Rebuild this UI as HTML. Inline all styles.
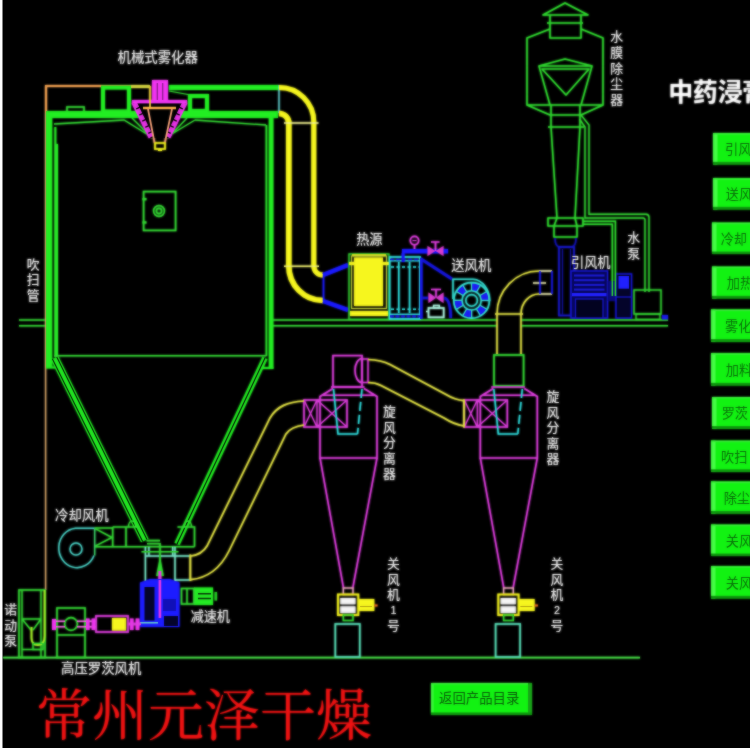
<!DOCTYPE html>
<html lang="zh"><head><meta charset="utf-8"><title>喷雾干燥机组流程图</title>
<style>
html,body{margin:0;padding:0;background:#000;width:750px;height:750px;overflow:hidden;font-family:"Liberation Sans",sans-serif;}
svg{display:block;position:absolute;left:0;top:0;}
svg text{font-family:"Liberation Sans","Noto Sans CJK SC",sans-serif;stroke:none;}
</style></head><body>
<svg width="750" height="750" viewBox="0 0 750 750" fill="none" stroke-linecap="butt">
<rect width="750" height="750" fill="#000"/>
<defs><filter id="soft" filterUnits="userSpaceOnUse" x="-10" y="-10" width="770" height="770" color-interpolation-filters="sRGB"><feGaussianBlur stdDeviation="0.9"/></filter><g id="all">
<line x1="3" y1="657.6" x2="640" y2="657.6" stroke="#46e046" stroke-width="1.68"/>
<line x1="19" y1="320" x2="46" y2="320" stroke="#34dc34" stroke-width="1.47"/>
<line x1="273" y1="320" x2="497" y2="320" stroke="#34dc34" stroke-width="1.58"/>
<line x1="521" y1="320" x2="668" y2="320" stroke="#34dc34" stroke-width="1.58"/>
<line x1="19" y1="325.8" x2="46" y2="325.8" stroke="#34dc34" stroke-width="1.47"/>
<line x1="273" y1="325.8" x2="497" y2="325.8" stroke="#34dc34" stroke-width="1.58"/>
<line x1="521" y1="325.8" x2="668" y2="325.8" stroke="#34dc34" stroke-width="1.58"/>
<g id="tower">
<line x1="45.6" y1="113" x2="45.6" y2="590" stroke="#d2a266" stroke-width="1.37"/>
<path d="M46 113V86H150" stroke="#f0a050" stroke-width="2.1" fill="none"/>
<rect x="169" y="85" width="110" height="5" fill="#22ee22"/>
<rect x="131" y="85" width="19" height="3" fill="#d4d440"/>
<rect x="103" y="87.5" width="26" height="24" fill="none" stroke="#22ee22" stroke-width="4"/>
<rect x="67" y="107" width="17" height="5" fill="none" stroke="#34dc34" stroke-width="1.58"/>
<rect x="46" y="111" width="232" height="7" fill="#22ee22"/>
<rect x="190" y="96" width="17" height="15" fill="none" stroke="#22ee22" stroke-width="4"/>
<rect x="46" y="111" width="6.2" height="257" fill="#22ee22"/>
<rect x="54.3" y="127" width="2.0" height="230" fill="#28ea28"/>
<rect x="56" y="144" width="2" height="212.5" fill="#28ea28"/>
<rect x="268.8" y="111" width="4.6" height="257.5" fill="#22ee22"/>
<line x1="266.4" y1="125" x2="266.4" y2="356" stroke="#2cea2c" stroke-width="1.68"/>
<rect x="260" y="367" width="13.4" height="2" fill="#22ee22"/>
<rect x="46" y="366.5" width="10" height="2.0" fill="#22ee22"/>
<path d="M54 124L124 120L150 136M195 120L170 135M195 120L266 125M132 118L152 138M187 118L168 138" stroke="#34dc34" stroke-width="1.26" fill="none"/>
<line x1="54" y1="355.8" x2="266.5" y2="355.8" stroke="#34dc34" stroke-width="1.58"/>
<path d="M54.6 358L144.8 540.5" stroke="#22ee22" stroke-width="8.4" fill="none"/>
<path d="M56.75 356.94L146.95 539.44M52.45 359.06L142.65 541.56" stroke="#000" stroke-width="1.05" fill="none"/>
<path d="M265 358L177 544" stroke="#22ee22" stroke-width="5.5" fill="none"/>
<path d="M265 358L177 544" stroke="#000" stroke-width="1.16" fill="none"/>
<rect x="143.6" y="191.6" width="32.0" height="38.8" fill="none" stroke="#34dc34" stroke-width="1.68"/>
<rect x="142.5" y="198" width="4.0" height="2.3" fill="#34dc34"/>
<rect x="142.5" y="221.3" width="4.0" height="2.3" fill="#34dc34"/>
<circle cx="159" cy="211" r="5.4" stroke="#34dc34" stroke-width="1.58" fill="none"/>
<circle cx="159" cy="211" r="2.6" stroke="#34dc34" stroke-width="1.58" fill="none"/>
</g>
<g id="atomizer">
<polygon points="133,103 186,103 168.5,138 150.5,138" fill="#000"/>
<path d="M134.5 103L151 137M184.5 103L168 137" stroke="#e232e2" stroke-width="5" fill="none" stroke-dasharray="5.5 1.3"/>
<path d="M132.3 103L149.6 138M186.7 103L169.4 138" stroke="#f034f0" stroke-width="1.68" fill="none"/>
<rect x="132" y="100" width="55" height="3.4" fill="#f034f0"/>
<rect x="152" y="80" width="16" height="22" fill="#f034f0"/>
<path d="M157.3 83V100M162.7 83V100" stroke="#8a1c8a" stroke-width="1.26" fill="none"/>
<line x1="143" y1="108" x2="176" y2="108" stroke="#ffb24a" stroke-width="2.31"/>
<line x1="150" y1="86" x2="150" y2="108" stroke="#f4d03a" stroke-width="1.68"/>
<line x1="169" y1="91" x2="188" y2="94.5" stroke="#34dc34" stroke-width="1.26"/>
<path d="M148 109L154.6 143M172 109L164.8 143" stroke="#f4a078" stroke-width="1.78" fill="none"/>
<rect x="155" y="143" width="10" height="6" fill="none" stroke="#f6f61e" stroke-width="1.68"/>
<rect x="158" y="149" width="4" height="2" fill="#f6f61e"/>
</g>
<g id="hotpipe">
<line x1="279" y1="85" x2="279" y2="113" stroke="#68dede" stroke-width="1.26"/>
<path d="M279 87.5A34.5 34.5 0 0 1 313.8 122V266" stroke="#f6f61e" stroke-width="5" fill="none"/>
<path d="M279 113.5A9.7 9.5 0 0 1 288.8 123V266A34.2 34.5 0 0 0 323 300.5" stroke="#f6f61e" stroke-width="5.5" fill="none"/>
<path d="M313.8 266A9 9 0 0 0 323 275" stroke="#f6f61e" stroke-width="5" fill="none"/>
<line x1="284" y1="123" x2="318.5" y2="123" stroke="#f0f090" stroke-width="1.47"/>
<line x1="284" y1="266.3" x2="319" y2="266.3" stroke="#f0f070" stroke-width="1.47"/>
<path d="M323 275L348 265M323 301L348 310" stroke="#1a1aff" stroke-width="4.2" fill="none"/>
<line x1="323.5" y1="275" x2="323.5" y2="301" stroke="#1a1aff" stroke-width="1.68"/>
</g>
<g id="heat">
<rect x="349" y="254" width="40" height="65.3" fill="none" stroke="#34dc34" stroke-width="1.26"/>
<rect x="354" y="257.5" width="29" height="48.5" fill="#f6f61e"/>
<line x1="352" y1="255.2" x2="386" y2="255.2" stroke="#f6f61e" stroke-width="1.68"/>
<rect x="351.6" y="256" width="34.8" height="52.5" fill="none" stroke="#c8d838" stroke-width="1.05"/>
<rect x="349" y="262" width="5" height="3" fill="#f6f61e"/>
<rect x="383" y="262" width="6.5" height="3" fill="#f6f61e"/>
<rect x="350" y="311" width="38" height="5" fill="#f6f61e"/>
</g>
<g id="exch">
<rect x="389.6" y="257" width="30.4" height="62" fill="none" stroke="#2fe0e0" stroke-width="1.68"/>
<path d="M398.8 262V313M409.6 262V313" stroke="#2fe0e0" stroke-width="1.58" fill="none"/>
<line x1="390" y1="260.8" x2="420" y2="260.8" stroke="#2fe0e0" stroke-width="1.26"/>
<line x1="390" y1="314.3" x2="420" y2="314.3" stroke="#2fe0e0" stroke-width="1.26"/>
<line x1="391" y1="267" x2="419" y2="267" stroke="#2fe0e0" stroke-width="1.47" stroke-dasharray="3 2.5"/>
<line x1="391" y1="309.3" x2="419" y2="309.3" stroke="#2fe0e0" stroke-width="1.47" stroke-dasharray="3 2.5"/>
<rect x="402" y="249" width="46" height="4.4" fill="#1a1aff"/>
<rect x="401.6" y="253" width="3.0" height="9" fill="#1a1aff"/>
<path d="M420.3 258.5L452 279" stroke="#1616dc" stroke-width="2.8" fill="none"/>
<path d="M421.3 258V319" stroke="#1616e6" stroke-width="2.6" fill="none"/>
<path d="M422 298H428M444 298Q450.7 299 450.7 318" stroke="#1616dc" stroke-width="2.6" fill="none"/>
<line x1="390" y1="316.3" x2="420" y2="316.3" stroke="#1818e0" stroke-width="2.31" stroke-dasharray="4 1.5"/>
<line x1="390" y1="259.4" x2="420" y2="259.4" stroke="#1818e0" stroke-width="1.47" stroke-dasharray="4 2"/>
<circle cx="414.5" cy="240.6" r="4.2" stroke="#e23ee2" stroke-width="1.58" fill="none"/>
<line x1="414.5" y1="245" x2="414.5" y2="249" stroke="#e23ee2" stroke-width="1.68"/>
<line x1="412.5" y1="240.6" x2="416.5" y2="240.6" stroke="#e23ee2" stroke-width="1.05"/>
<polygon points="427.5,246 427.5,256 435.5,251" fill="#d83cd0"/>
<polygon points="443.5,246 443.5,256 435.5,251" fill="#d83cd0"/>
<path d="M435.5 251V242M431 242H439.5" stroke="#e23ee2" stroke-width="1.68" fill="none"/>
<polygon points="428.5,292.5 428.5,303 436,297.7" fill="#d83cd0"/>
<polygon points="443.5,292.5 443.5,303 436,297.7" fill="#d83cd0"/>
<path d="M436 297.5V289.5M431 289.5H441" stroke="#e23ee2" stroke-width="1.58" fill="none"/>
<rect x="428.5" y="308" width="15.2" height="9.3" fill="none" stroke="#b0fae6" stroke-width="1.68"/>
<rect x="433.6" y="305.4" width="5.7" height="2.6" fill="none" stroke="#b0fae6" stroke-width="1.37"/>
<line x1="426" y1="311.5" x2="428.5" y2="311.5" stroke="#b0fae6" stroke-width="1.37"/>
</g>
<g id="sfan">
<circle cx="471.6" cy="300.4" r="13.6" stroke="#1c1cf4" stroke-width="7.4" fill="none" stroke-dasharray="7.12 7.12" stroke-dashoffset="-7.12"/>
<path d="M481.2 300.4L489.2 300.4M479.9 305.2L486.8 309.2M476.4 308.7L480.4 315.6M471.6 310.0L471.6 318.0M466.8 308.7L462.8 315.6M463.3 305.2L456.4 309.2M462.0 300.4L454.0 300.4M463.3 295.6L456.4 291.6M466.8 292.1L462.8 285.2M471.6 290.8L471.6 282.8M476.4 292.1L480.4 285.2M479.9 295.6L486.8 291.6" stroke="#38dcd0" stroke-width="1.16" fill="none"/>
<circle cx="471.6" cy="300.4" r="17.8" stroke="#34e0d4" stroke-width="1.68" fill="none"/>
<circle cx="471.6" cy="300.4" r="9.6" stroke="#34e0d4" stroke-width="1.58" fill="none"/>
<circle cx="471.6" cy="300.4" r="5.8" stroke="#34e0d4" stroke-width="1.58" fill="none"/>
<path d="M453 299V279.3H473A17.4 21.6 0 0 1 489.6 301" stroke="#34e0d4" stroke-width="1.58" fill="none"/>
</g>
<g id="duct2">
<path d="M497 354V314A42 43 0 0 1 539 271M521 354V314A18 20 0 0 1 539 294M495 314H523" stroke="#e4e444" stroke-width="1.58" fill="none"/>
<path d="M539 271H552M533 283H546M539 294H552" stroke="#e8e8b0" stroke-width="1.58" fill="none"/>
<path d="M540 271V294M552 271V294" stroke="#1a1aff" stroke-width="1.37" fill="none"/>
<rect x="494" y="355" width="29.6" height="31" fill="none" stroke="#34dc34" stroke-width="1.68"/>
</g>
<g id="ifan">
<path d="M555 238Q555 247 560 247H571Q576 247 576 238" stroke="#1212b0" stroke-width="1.68" fill="none"/>
<rect x="559" y="247" width="15" height="68.5" fill="none" stroke="#1818cc" stroke-width="1.68"/>
<path d="M562.5 249V315M570.5 249V315" stroke="#10109c" stroke-width="1.16" fill="none"/>
<rect x="571" y="271" width="36.5" height="47" fill="#07075a" stroke="#1616d4" stroke-width="1.47"/>
<line x1="574" y1="275.5" x2="604.5" y2="275.5" stroke="#1a1ad2" stroke-width="2.1"/>
<line x1="574" y1="280.2" x2="604.5" y2="280.2" stroke="#1a1ad2" stroke-width="2.1"/>
<line x1="574" y1="284.9" x2="604.5" y2="284.9" stroke="#1a1ad2" stroke-width="2.1"/>
<line x1="574" y1="289.6" x2="604.5" y2="289.6" stroke="#1a1ad2" stroke-width="2.1"/>
<line x1="572" y1="294.7" x2="606.5" y2="294.7" stroke="#2222ff" stroke-width="3.2"/>
<rect x="575.5" y="299" width="27.5" height="19" fill="#020220" stroke="#1414c0" stroke-width="1.37"/>
<rect x="607.5" y="281" width="8.5" height="20" fill="#0a0a7c"/>
<rect x="616" y="274" width="15.5" height="44" fill="#04042a" stroke="#1414cc" stroke-width="1.47"/>
<rect x="618.5" y="276" width="10.5" height="12.7" fill="#2020ff"/>
<line x1="616" y1="297" x2="631.5" y2="297" stroke="#1414cc" stroke-width="1.26"/>
<rect x="662" y="315" width="6" height="4.5" fill="#1a1ae6"/>
</g>
<g id="dust">
<path d="M543 15L565 3L588 15ZM550 15V38H581V15M547 23H583M550 29L527 38V105L550 115M581 29L603 38V105L581 115M527 105H603M550 115H581M548 127H584M551 105V127M580 105V127M539 66L565 59L592 66ZM542 69H589L566 95ZM539 66L550 105M592 66L581 105M551 127L557 218M580 127L575 218M548 218H583V226H548ZM554 226V237H577V226M557 218L554 226M575 218L577 226" stroke="#30e030" stroke-width="1.58" fill="none" stroke-linejoin="round"/>
<path d="M581 115L589 125V214.3H646Q649 214.3 649 217.5V292" stroke="#34dc34" stroke-width="1.37" fill="none"/>
<path d="M579.5 119L585 127V218H643Q645 218 645 220V292" stroke="#34dc34" stroke-width="1.37" fill="none"/>
<path d="M583 221.3H615.4V296M583 224.2H612.3V296" stroke="#30e630" stroke-width="1.47" fill="none"/>
</g>
<rect x="634" y="290" width="27" height="24" fill="none" stroke="#34dc34" stroke-width="1.37"/>
<rect x="636" y="314" width="24" height="5.3" fill="none" stroke="#34dc34" stroke-width="1.16"/>
<g>
<path d="M331 387H364.5M333 388.5L320 396.5V458H377V396.5L364 388.5M323 395.3H375" stroke="#e23ee2" stroke-width="1.58" fill="none"/>
<path d="M320 458L343.5 588M377 458L352.8 588" stroke="#e23ee2" stroke-width="1.58" fill="none"/>
<rect x="304" y="400" width="43" height="27" fill="none" stroke="#e23ee2" stroke-width="1.58"/>
<path d="M317 400V427M304 400L317 427M317 400L304 427M317 400L347 427M347 400L317 427" stroke="#e23ee2" stroke-width="1.26" fill="none"/>
<path d="M333.5 389L338 434H357.5" stroke="#2fe0e0" stroke-width="1.58" fill="none"/>
<path d="M362 389L357.5 434" stroke="#2fe0e0" stroke-width="1.58" fill="none" stroke-dasharray="9 4"/>
<rect x="343.3" y="588" width="9.7" height="6.5" fill="none" stroke="#f0a8c0" stroke-width="1.37"/>
<rect x="338" y="594.5" width="20.3" height="20.5" fill="none" stroke="#f6f61e" stroke-width="1.89"/>
<rect x="340.3" y="598" width="15.2" height="6.3" fill="#f4f4f4"/>
<rect x="340.3" y="606.3" width="15.2" height="6.7" fill="#f4f4f4"/>
<rect x="358.3" y="599" width="16.0" height="12" fill="#f6f61e"/>
<line x1="360" y1="606.5" x2="372" y2="606.5" stroke="#b0a010" stroke-width="1.05"/>
<rect x="374.3" y="604.5" width="3.2" height="2.0" fill="#f07020"/>
<rect x="343.3" y="615" width="9.7" height="5.5" fill="none" stroke="#34dc34" stroke-width="1.47"/>
<rect x="335.3" y="624" width="24.5" height="33" fill="none" stroke="#58e0b8" stroke-width="1.68"/>
</g>
<g>
<path d="M491.3 387H524.8M493.3 388.5L480.3 396.5V458H537.3V396.5L524.3 388.5M483.3 395.3H535.3" stroke="#e23ee2" stroke-width="1.58" fill="none"/>
<path d="M480.3 458L503.8 588M537.3 458L513.1 588" stroke="#e23ee2" stroke-width="1.58" fill="none"/>
<rect x="464.3" y="400" width="43.0" height="27" fill="none" stroke="#e23ee2" stroke-width="1.58"/>
<path d="M477.3 400V427M464.3 400L477.3 427M477.3 400L464.3 427M477.3 400L507.3 427M507.3 400L477.3 427" stroke="#e23ee2" stroke-width="1.26" fill="none"/>
<path d="M493.8 389L498.3 434H517.8" stroke="#2fe0e0" stroke-width="1.58" fill="none"/>
<path d="M522.3 389L517.8 434" stroke="#2fe0e0" stroke-width="1.58" fill="none" stroke-dasharray="9 4"/>
<rect x="503.6" y="588" width="9.7" height="6.5" fill="none" stroke="#f0a8c0" stroke-width="1.37"/>
<rect x="498.3" y="594.5" width="20.3" height="20.5" fill="none" stroke="#f6f61e" stroke-width="1.89"/>
<rect x="500.6" y="598" width="15.2" height="6.3" fill="#f4f4f4"/>
<rect x="500.6" y="606.3" width="15.2" height="6.7" fill="#f4f4f4"/>
<rect x="518.6" y="599" width="16.0" height="12" fill="#f6f61e"/>
<line x1="520.3" y1="606.5" x2="532.3" y2="606.5" stroke="#b0a010" stroke-width="1.05"/>
<rect x="534.6" y="604.5" width="3.2" height="2.0" fill="#f07020"/>
<rect x="503.6" y="615" width="9.7" height="5.5" fill="none" stroke="#34dc34" stroke-width="1.47"/>
<rect x="495.6" y="624" width="24.5" height="33" fill="none" stroke="#58e0b8" stroke-width="1.68"/>
</g>
<g id="c1top">
<rect x="333" y="355.6" width="29" height="31.4" fill="none" stroke="#e23ee2" stroke-width="1.58"/>
<path d="M362 358.5A7 12 0 0 0 362 382.5" stroke="#e23ee2" stroke-width="1.58" fill="none"/>
<rect x="362" y="359" width="6" height="23.5" fill="none" stroke="#e23ee2" stroke-width="1.37"/>
</g>
<path d="M368 359.5C378 360 384 361.5 390 364.5L446 394.5Q455 400 464 400.6" stroke="#e4e444" stroke-width="1.68" fill="none"/>
<path d="M368 382.5C373 382.6 377 383.4 381 385.5L444 418Q454 424.5 464 426" stroke="#e4e444" stroke-width="1.68" fill="none"/>
<line x1="464" y1="399.5" x2="464" y2="427.5" stroke="#e4e444" stroke-width="1.89"/>
<path d="M304 401C288 402 277 406 270 418L207 546Q202 554.5 191 556" stroke="#e4e444" stroke-width="1.68" fill="none"/>
<path d="M304 425C296 426 290 428 286 434L229 551Q216 577 191 579.6" stroke="#e4e444" stroke-width="1.68" fill="none"/>
<g id="bottom">
<path d="M112.7 527H139.5M112.7 527V546.8M126 527V546.8M112.7 546.8H194.5M94.7 528H112.7M94.7 546.8H112.7" stroke="#34dc34" stroke-width="1.58" fill="none"/>
<path d="M95.2 528.6L112 537.5L95.2 546.2" stroke="#34dc34" stroke-width="1.47" fill="none"/>
<path d="M128.5 527A3.5 6 0 0 1 135.5 527" stroke="#34dc34" stroke-width="1.47" fill="none"/>
<path d="M177.5 527H194.5V546.8" stroke="#34dc34" stroke-width="1.58" fill="none"/>
<path d="M184.5 527A3.5 6 0 0 1 191.5 527" stroke="#34dc34" stroke-width="1.47" fill="none"/>
<path d="M94.7 528.3H75.5A18.3 19.7 0 1 0 94 555.5" stroke="#48d0c4" stroke-width="1.47" fill="none"/>
<line x1="94.7" y1="528" x2="94.7" y2="555.5" stroke="#3cd46a" stroke-width="1.37"/>
<circle cx="76" cy="549" r="6" stroke="#48d0c4" stroke-width="1.47" fill="none"/>
<path d="M145.4 546.8V582M148.9 546.8V556M172.7 546.8V556M175 546.8V582M145.4 556H175M175 556H190M175 580H190" stroke="#7aeccc" stroke-width="1.47" fill="none"/>
<path d="M141.5 551.8H178.5" stroke="#34dc34" stroke-width="1.58" fill="none"/>
<polygon points="160,556 156.2,576 163.8,576" fill="#2ee02e"/>
<line x1="190.3" y1="554.5" x2="190.3" y2="581" stroke="#e4e444" stroke-width="1.89"/>
<path d="M146.5 540.6H160M147 543.7H160V572" stroke="#34dc34" stroke-width="1.58" fill="none"/>
<rect x="158.4" y="571" width="3.0" height="48" fill="#e838e8"/>
<polygon points="140,627 140,582.5 150,579 170,579 179.5,582.5 179.5,627" fill="#1c1cff"/>
<rect x="144.5" y="587" width="10.0" height="33.5" fill="#04042a"/>
<rect x="163" y="599" width="13" height="12" fill="#1010b8"/>
<rect x="164" y="616" width="14" height="10" fill="#04042a"/>
<rect x="158.6" y="580" width="2.6" height="38" fill="#e838e8"/>
<line x1="140" y1="622.8" x2="158" y2="622.8" stroke="#70e8c8" stroke-width="1.37"/>
<rect x="194" y="587.5" width="19" height="17.5" fill="#24ea24"/>
<path d="M198 593.8H211M198 598.4H211" stroke="#063006" stroke-width="1.47" fill="none"/>
<rect x="181.5" y="588.5" width="12.5" height="15.5" fill="none" stroke="#34dc34" stroke-width="1.58"/>
<line x1="187" y1="589" x2="187" y2="604" stroke="#34dc34" stroke-width="1.47"/>
<rect x="214.5" y="592" width="2.5" height="8.5" fill="#24d024"/>
</g>
<g id="roots">
<rect x="57" y="608" width="28" height="49.5" fill="none" stroke="#34dc34" stroke-width="1.58"/>
<line x1="57" y1="635" x2="85" y2="635" stroke="#34dc34" stroke-width="1.47"/>
<circle cx="71" cy="624" r="6.4" stroke="#34dc34" stroke-width="1.58" fill="none"/>
<rect x="52" y="619" width="4" height="11" fill="#f034f0"/>
<path d="M56 621.3H65M77 621.3H96M56 626.8H65M77 626.8H96" stroke="#f070e0" stroke-width="1.47" fill="none"/>
<rect x="86" y="618.5" width="3.6" height="11.5" fill="#f034f0"/>
<rect x="91.6" y="618.5" width="3.4" height="11.5" fill="#f034f0"/>
<rect x="96" y="616" width="32" height="16" fill="none" stroke="#e23ee2" stroke-width="1.68"/>
<rect x="112" y="618" width="14" height="12.5" fill="#f6f61e"/>
<rect x="130" y="618.5" width="3.6" height="11.5" fill="#f034f0"/>
<rect x="135.6" y="618.5" width="3.8" height="11.5" fill="#f034f0"/>
<path d="M128 624H141" stroke="#e23ee2" stroke-width="2.52" fill="none"/>
<rect x="19" y="590" width="26" height="67.5" fill="none" stroke="#34dc34" stroke-width="1.58"/>
<path d="M22 590V657M41 590V657M22 619H41M22 619L31 630M41 619L33 630" stroke="#34dc34" stroke-width="1.37" fill="none"/>
<path d="M44.6 590V636Q44.6 645 38 645Q31.5 645 31.5 638V627" stroke="#a8f428" stroke-width="1.89" fill="none"/>
<rect x="33" y="643.5" width="10" height="6.0" fill="none" stroke="#34dc34" stroke-width="1.37"/>
<line x1="22" y1="649.5" x2="41" y2="649.5" stroke="#34dc34" stroke-width="1.37"/>
</g>
<g id="buttons">
<rect x="713" y="133.1" width="39" height="31.2" fill="#12f212"/>
<rect x="713" y="133.1" width="4.5" height="31.2" fill="#44fb44"/>
<rect x="713" y="133.1" width="39" height="1.5" fill="#3cf83c"/>
<rect x="713" y="161.8" width="39" height="2.5" fill="#0f9a0f"/>
<text x="725" y="154" font-size="13.2" fill="#0a6e0a">引风</text>
<rect x="713" y="178.3" width="39" height="31.0" fill="#12f212"/>
<rect x="713" y="178.3" width="4.5" height="31.0" fill="#44fb44"/>
<rect x="713" y="178.3" width="39" height="1.5" fill="#3cf83c"/>
<rect x="713" y="206.8" width="39" height="2.5" fill="#0f9a0f"/>
<text x="725.8" y="199.3" font-size="13.2" fill="#0a6e0a">送风</text>
<rect x="712" y="222.7" width="40" height="31.3" fill="#12f212"/>
<rect x="712" y="222.7" width="4.5" height="31.3" fill="#44fb44"/>
<rect x="712" y="222.7" width="40" height="1.5" fill="#3cf83c"/>
<rect x="712" y="251.5" width="40" height="2.5" fill="#0f9a0f"/>
<text x="720.7" y="244" font-size="13.2" fill="#0a6e0a">冷却</text>
<rect x="712" y="266.7" width="40" height="31.6" fill="#12f212"/>
<rect x="712" y="266.7" width="4.5" height="31.6" fill="#44fb44"/>
<rect x="712" y="266.7" width="40" height="1.5" fill="#3cf83c"/>
<rect x="712" y="295.8" width="40" height="2.5" fill="#0f9a0f"/>
<text x="726.8" y="288" font-size="13.2" fill="#0a6e0a">加热</text>
<rect x="711" y="309.6" width="41" height="32.0" fill="#12f212"/>
<rect x="711" y="309.6" width="4.5" height="32.0" fill="#44fb44"/>
<rect x="711" y="309.6" width="41" height="1.5" fill="#3cf83c"/>
<rect x="711" y="339.1" width="41" height="2.5" fill="#0f9a0f"/>
<text x="725" y="331.2" font-size="13.2" fill="#0a6e0a">雾化</text>
<rect x="711" y="353.3" width="41" height="32.0" fill="#12f212"/>
<rect x="711" y="353.3" width="4.5" height="32.0" fill="#44fb44"/>
<rect x="711" y="353.3" width="41" height="1.5" fill="#3cf83c"/>
<rect x="711" y="382.8" width="41" height="2.5" fill="#0f9a0f"/>
<text x="725.8" y="374.8" font-size="13.2" fill="#0a6e0a">加料</text>
<rect x="712" y="397" width="40" height="31.6" fill="#12f212"/>
<rect x="712" y="397" width="4.5" height="31.6" fill="#44fb44"/>
<rect x="712" y="397" width="40" height="1.5" fill="#3cf83c"/>
<rect x="712" y="426.1" width="40" height="2.5" fill="#0f9a0f"/>
<text x="721.7" y="418.3" font-size="13.2" fill="#0a6e0a">罗茨</text>
<rect x="711" y="440.7" width="41" height="31.1" fill="#12f212"/>
<rect x="711" y="440.7" width="4.5" height="31.1" fill="#44fb44"/>
<rect x="711" y="440.7" width="41" height="1.5" fill="#3cf83c"/>
<rect x="711" y="469.3" width="41" height="2.5" fill="#0f9a0f"/>
<text x="721" y="461.8" font-size="13.2" fill="#0a6e0a">吹扫</text>
<rect x="711" y="481.6" width="41" height="31.8" fill="#12f212"/>
<rect x="711" y="481.6" width="4.5" height="31.8" fill="#44fb44"/>
<rect x="711" y="481.6" width="41" height="1.5" fill="#3cf83c"/>
<rect x="711" y="510.9" width="41" height="2.5" fill="#0f9a0f"/>
<text x="723.7" y="503" font-size="13.2" fill="#0a6e0a">除尘</text>
<rect x="711" y="524.7" width="41" height="31.3" fill="#12f212"/>
<rect x="711" y="524.7" width="4.5" height="31.3" fill="#44fb44"/>
<rect x="711" y="524.7" width="41" height="1.5" fill="#3cf83c"/>
<rect x="711" y="553.5" width="41" height="2.5" fill="#0f9a0f"/>
<text x="725.8" y="545.8" font-size="13.2" fill="#0a6e0a">关风</text>
<rect x="711" y="566.3" width="41" height="32.0" fill="#12f212"/>
<rect x="711" y="566.3" width="4.5" height="32.0" fill="#44fb44"/>
<rect x="711" y="566.3" width="41" height="1.5" fill="#3cf83c"/>
<rect x="711" y="595.8" width="41" height="2.5" fill="#0f9a0f"/>
<text x="725.8" y="587.8" font-size="13.2" fill="#0a6e0a">关风</text>
</g>
<rect x="431" y="683" width="101" height="32" fill="#12f212"/>
<rect x="431" y="683" width="101" height="1.5" fill="#3cf83c"/>
<rect x="431" y="683" width="2.5" height="32" fill="#3cf83c"/>
<rect x="528" y="683" width="4" height="32" fill="#18a418"/>
<rect x="431" y="712.4" width="101" height="2.6" fill="#0f9a0f"/>
<text x="439" y="702.8" font-size="13.4" fill="#0a5a0a">返回产品目录</text>
<g id="labels">
<text x="117.5" y="62.2" font-size="13.4" fill="#f0f0f0">机械式雾化器</text>
<text x="356.2" y="244.2" font-size="13.2" fill="#f0f0f0">热源</text>
<text x="451.2" y="269.7" font-size="13.4" fill="#f0f0f0">送风机</text>
<text x="571" y="266.7" font-size="13.2" fill="#f0f0f0">引风机</text>
<text x="55" y="519.7" font-size="13.4" fill="#f0f0f0">冷却风机</text>
<text x="190.7" y="620.5" font-size="13.1" fill="#f0f0f0">减速机</text>
<text x="61" y="673.2" font-size="13.4" fill="#f0f0f0">高压罗茨风机</text>
<text font-size="12.8" fill="#f0f0f0"><tspan x="610.3" y="41.4">水</tspan><tspan x="610.3" y="57">膜</tspan><tspan x="610.3" y="72.6">除</tspan><tspan x="610.3" y="88.2">尘</tspan><tspan x="610.3" y="103.9">器</tspan></text>
<text font-size="12.8" fill="#f0f0f0"><tspan x="627.2" y="242.1">水</tspan><tspan x="627.2" y="258">泵</tspan></text>
<text font-size="12.8" fill="#f0f0f0"><tspan x="26.7" y="268.8">吹</tspan><tspan x="26.7" y="284.4">扫</tspan><tspan x="26.7" y="300">管</tspan></text>
<text font-size="12.8" fill="#f0f0f0"><tspan x="383" y="416.3">旋</tspan><tspan x="383" y="431.8">风</tspan><tspan x="383" y="447.1">分</tspan><tspan x="383" y="462.5">离</tspan><tspan x="383" y="478">器</tspan></text>
<text font-size="12.8" fill="#f0f0f0"><tspan x="546.5" y="401.3">旋</tspan><tspan x="546.5" y="416.8">风</tspan><tspan x="546.5" y="432.1">分</tspan><tspan x="546.5" y="447.5">离</tspan><tspan x="546.5" y="463">器</tspan></text>
<text font-size="12.8" fill="#f0f0f0"><tspan x="387.1" y="568.3">关</tspan><tspan x="387.1" y="583.9">风</tspan><tspan x="387.1" y="599.3">机</tspan><tspan x="387.1" y="630.3">号</tspan></text>
<text x="393.6" y="613.7" font-size="10.8" fill="#f0f0f0" text-anchor="middle">1</text>
<text font-size="12.8" fill="#f0f0f0"><tspan x="550.6" y="568.3">关</tspan><tspan x="550.6" y="583.9">风</tspan><tspan x="550.6" y="599.3">机</tspan><tspan x="550.6" y="630.3">号</tspan></text>
<text x="557" y="613.7" font-size="10.8" fill="#f0f0f0" text-anchor="middle">2</text>
<text font-size="12.8" fill="#f0f0f0"><tspan x="4.3" y="614.3">诺</tspan><tspan x="4.3" y="629.9">动</tspan><tspan x="4.3" y="645.4">泵</tspan></text>
</g>
<text x="668.5" y="100.5" font-size="24.6" font-weight="bold" fill="#ffffff">中药浸膏</text>
<text x="36" y="735" font-size="56" fill="#f01212" style="font-family:'Liberation Serif','Noto Serif CJK SC',serif;">常州元泽干燥</text>
</g></defs>
<use href="#all" filter="url(#soft)"/><use href="#all" opacity="0.5"/>
<rect x="0" y="0" width="2.5" height="750" fill="#fdfdfd"/><rect x="0" y="748" width="750" height="2" fill="#fdfdfd"/>
</svg>
</body></html>
